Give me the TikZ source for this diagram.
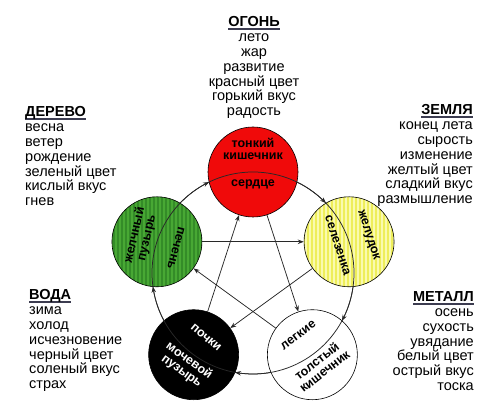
\documentclass[tikz,border=0pt]{standalone}
\usepackage{fontspec}
\setmainfont{Liberation Sans}
\usetikzlibrary{arrows.meta,bending}
\definecolor{firered}{RGB}{240,10,10}
\definecolor{woodgreen}{RGB}{72,168,52}
\definecolor{woodstripe}{RGB}{52,140,40}
\definecolor{earthyellow}{RGB}{238,238,90}
\definecolor{earthstripe}{RGB}{250,250,175}
\definecolor{ulcol}{RGB}{60,60,80}
\definecolor{linecol}{RGB}{40,40,40}
\newcommand\hdline[1]{\setbox0\hbox{\bfseries #1}\rlap{\color{ulcol}\rule[-2.8pt]{\wd0}{1.5pt}}\box0}
\begin{document}
\begin{tikzpicture}[x=1pt,y=1pt,
  organ/.style={circle, draw=black, line width=0.6pt, minimum size=90pt, inner sep=0pt},
  stripes/.style={path picture={\foreach \i in {-52,-48,...,52}{\fill[#1] ([xshift=\i pt]path picture bounding box.south) rectangle ++(1.8,94);}}},
  ring/.style={draw=linecol, line width=0.75pt},
  tip/.style={-{Stealth[length=6pt,width=4.5pt]}},
  ctext/.style={font={\fontsize{12.5}{12.5}\selectfont\bfseries}, align=center, inner sep=0pt},
  block/.style={font={\fontsize{14.5}{14.8}\selectfont}, inner sep=0pt}
]
\useasboundingbox (0,0) rectangle (500,409);
\coordinate (O) at (253,136);
% organ circles
\node[organ, fill=firered] (fire) at ([shift={(90:101)}]O) {};
\node[organ, fill=earthyellow, stripes=earthstripe] (earth) at ([shift={(18:101)}]O) {};
\node[organ, fill=white] (metal) at ([shift={(-54:101)}]O) {};
\node[organ, fill=black] (water) at ([shift={(-126:101)}]O) {};
\node[organ, fill=woodgreen, stripes=woodstripe] (wood) at ([shift={(162:101)}]O) {};
% generating ring
\draw[ring] (O) circle[radius=101];
\draw[ring,tip] ([shift={(64.26:101)}]O) arc[start angle=64.26, end angle=43.74, radius=101];
\draw[ring,tip] ([shift={(-7.74:101)}]O) arc[start angle=-7.74, end angle=-28.26, radius=101];
\draw[ring,tip] ([shift={(-79.74:101)}]O) arc[start angle=-79.74, end angle=-100.26, radius=101];
\draw[ring,tip] ([shift={(-151.74:101)}]O) arc[start angle=-151.74, end angle=-172.26, radius=101];
\draw[ring,tip] ([shift={(136.26:101)}]O) arc[start angle=136.26, end angle=115.74, radius=101];
% controlling star
\draw[ring,tip] (fire) -- (metal);
\draw[ring,tip] (metal) -- (wood);
\draw[ring,tip] (wood) -- (earth);
\draw[ring,tip] (earth) -- (water);
\draw[ring,tip] (water) -- (fire);
% organ labels
\node[ctext] (fireout) at ([shift={(0,23)}]fire) {тонкий\\кишечник};
\node[ctext] (firein) at ([shift={(0,-12)}]fire) {сердце};
\node[ctext, rotate=77] (woodout) at ([shift={(162:17)}]wood) {желчный\\пузырь};
\node[ctext, rotate=-105] (woodin) at ([shift={(-18:20)}]wood) {печень};
\node[ctext, rotate=-72] (earthin) at ([shift={(198:12)}]earth) {селезенка};
\node[ctext, rotate=-72] (earthout) at ([shift={(18:20)}]earth) {желудок};
\node[ctext, text=white, rotate=-40] (waterin) at ([shift={(54:21)}]water) {почки};
\node[ctext, text=white, rotate=-36] (waterout) at ([shift={(234:14)}]water) {мочевой\\пузырь};
\node[ctext, rotate=37] (metalin) at ([shift={(126:24)}]metal) {легкие};
\node[ctext, rotate=38] (metalout) at ([shift={(306:14)}]metal) {толстый\\кишечник};
% text blocks
\node[block, anchor=north, align=center] (fireblk) at (254,392.4) {\hdline{ОГОНЬ}\\лето\\жар\\развитие\\красный цвет\\горький вкус\\радость};
\node[block, anchor=north west, align=left] (woodblk) at (25,302.4) {\hdline{ДЕРЕВО}\\весна\\ветер\\рождение\\зеленый цвет\\кислый вкус\\гнев};
\node[block, anchor=north east, align=right] (earthblk) at (473,304.4) {\hdline{ЗЕМЛЯ}\\конец лета\\сырость\\изменение\\желтый цвет\\сладкий вкус\\размышление};
\node[block, anchor=north west, align=left] (waterblk) at (29,119.4) {\hdline{ВОДА}\\зима\\холод\\исчезновение\\черный цвет\\соленый вкус\\страх};
\node[block, anchor=north east, align=right] (metalblk) at (474,117.4) {\hdline{МЕТАЛЛ}\\осень\\сухость\\увядание\\белый цвет\\острый вкус\\тоска};
\end{tikzpicture}
\end{document}
